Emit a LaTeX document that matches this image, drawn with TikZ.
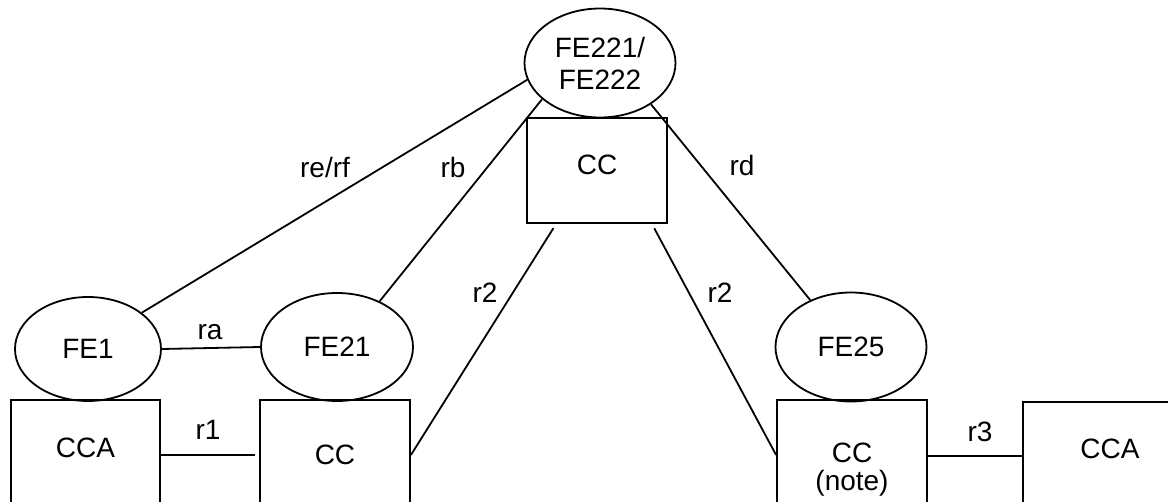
\documentclass[tikz,border=0pt]{standalone}
\usepackage{fontspec}
\setmainfont{Liberation Sans}
\usetikzlibrary{shapes.geometric}

\begin{document}
\begin{tikzpicture}[x=0.5pt, y=-0.5pt, line width=0.9pt,
  font=\fontsize{14}{16}\selectfont,
  fe/.style={draw, ellipse, inner sep=0pt, align=center},
  box/.style={draw, rectangle, inner sep=0pt, align=center}]
  \clip (0,0) rectangle (1168,502);

  \node (fe22x) at (600,63) [fe, minimum width=75.5pt, minimum height=54.5pt] {FE221/\\FE222};
  \node (ccT) at (597,170.5) [box, minimum width=70pt, minimum height=52.5pt, text depth=5.5pt] {CC};
  \node (fe1) at (88,349) [fe, minimum width=73pt, minimum height=52pt] {FE1};
  \node (fe21) at (337,347) [fe, minimum width=76pt, minimum height=54pt] {FE21};
  \node (fe25) at (851,347) [fe, minimum width=75.5pt, minimum height=54.5pt] {FE25};
  \node (ccaL) at (85.5,455) [box, minimum width=74.5pt, minimum height=55pt, text depth=7pt] {CCA};
  \node (ccL) at (335,455) [box, minimum width=75pt, minimum height=55pt] {CC};
  \node (ccN) at (852,470) [box, minimum width=75pt, minimum height=70pt, font=\fontsize{14}{14}\selectfont] {CC\\(note)};
  \node (ccaR) at (1110,456) [box, minimum width=87pt, minimum height=54pt, text depth=7pt] {CCA};

  \draw (fe1.34) to (fe22x.193);
  \draw (fe21.47) to (fe22x.212);
  \draw (fe22x.321) to (fe25.131);
  \draw (fe1.east) to (fe21.west);
  \draw[shorten >=2pt] (ccaL.east) to (ccL.west);
  \draw[shorten >=2.5pt] (ccL.east) to ([xshift=15pt]ccT.south west);
  \draw[shorten <=2.5pt] ([xshift=-8pt]ccT.south east) to (ccN.west |- ccL.east);
  \draw (ccN.east |- ccaR.west) to (ccaR.west);

  \node (lrerf) at (325,167) {re/rf};
  \node (lrb) at (453,167) {rb};
  \node (lrd) at (742,165) {rd};
  \node (lr2a) at (485,293) {r2};
  \node (lr2b) at (720,293) {r2};
  \node (lra) at (210,332) {ra};
  \node (lr1) at (208,430) {r1};
  \node (lr3) at (980,432) {r3};
\end{tikzpicture}
\end{document}
